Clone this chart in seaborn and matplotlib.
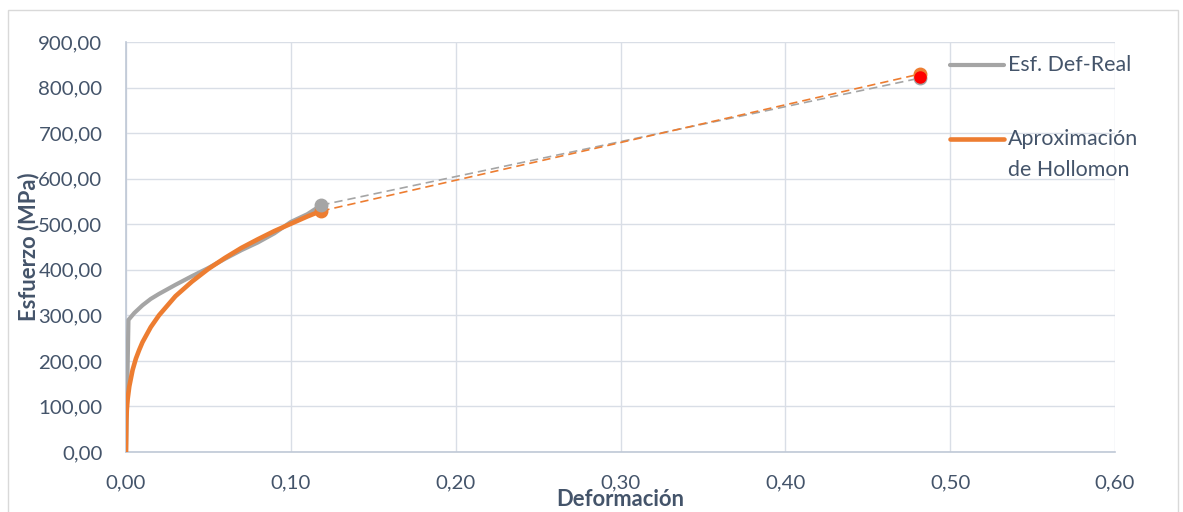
import matplotlib.pyplot as plt
import matplotlib.ticker as mticker
from matplotlib.lines import Line2D
from matplotlib.patches import Rectangle
import pandas as pd
import seaborn as sns

# curva esfuerzo-deformacion real
eps_real = [0, 0.0008, 0.0015, 0.005, 0.01, 0.015, 0.02, 0.03, 0.04, 0.05,
            0.06, 0.07, 0.08, 0.09, 0.10, 0.11, 0.1185]
sig_real = [0, 150, 290, 305, 322, 336, 347, 367, 386, 404,
            424, 443, 460, 480, 505, 522, 542]

# aproximacion de Hollomon
eps_holl = [0, 0.0002, 0.0005, 0.001, 0.002, 0.004, 0.006, 0.008, 0.01, 0.015,
            0.02, 0.03, 0.04, 0.05, 0.06, 0.07, 0.08, 0.09, 0.10, 0.11, 0.119]
sig_holl = [0, 69, 93, 116, 144, 180, 205, 224, 241, 274,
            300, 342, 374, 402, 426, 448, 467, 485, 501, 517, 530]

# extrapolacion hasta la rotura
eps_ext = [0.1185, 0.482]
sig_ext_real = [542, 821]
sig_ext_holl = [529, 830]
rotura = (0.482, 823)

x_ticks = [0, 0.1, 0.2, 0.3, 0.4, 0.5, 0.6]
y_ticks = [0, 100, 200, 300, 400, 500, 600, 700, 800, 900]

GRAY = '#A5A5A5'
ORANGE = '#ED7D31'
TXT = '#44546A'

sns.set_style('white')
plt.rcParams['font.family'] = ['Lato', 'DejaVu Sans']

fig = plt.figure(figsize=(11.83, 5.12), dpi=100)
ax = fig.add_axes([126 / 1183, 1 - 452 / 512, 989 / 1183, 410 / 512])

df_real = pd.DataFrame({'eps': eps_real, 'sig': sig_real})
df_holl = pd.DataFrame({'eps': eps_holl, 'sig': sig_holl})

sns.lineplot(data=df_real, x='eps', y='sig', sort=False, color=GRAY, lw=3, ax=ax, zorder=3)
sns.lineplot(data=df_holl, x='eps', y='sig', sort=False, color=ORANGE, lw=3.3, ax=ax, zorder=4)
sns.lineplot(x=eps_ext, y=sig_ext_real, color=GRAY, lw=1.2, ls=(0, (5, 3)), ax=ax, zorder=3)
sns.lineplot(x=eps_ext, y=sig_ext_holl, color=ORANGE, lw=1.2, ls=(0, (5, 3)), ax=ax, zorder=4)

ax.plot(eps_ext[0], sig_ext_holl[0], 'o', color=ORANGE, ms=9, zorder=5)
ax.plot(eps_ext[0], sig_ext_real[0], 'o', color=GRAY, ms=9, zorder=6)
ax.plot(eps_ext[1], sig_ext_real[1], 'o', color=GRAY, ms=9, zorder=5)
ax.plot(eps_ext[1], sig_ext_holl[1], 'o', color=ORANGE, ms=9, zorder=6)
ax.plot(rotura[0], rotura[1], 'o', color='#FF0000', ms=8, zorder=7)

ax.set_xlim(0, 0.6)
ax.set_ylim(0, 900)
ax.set_xticks(x_ticks)
ax.set_yticks(y_ticks)
ax.xaxis.set_major_formatter(mticker.FuncFormatter(lambda v, p: f'{v:.2f}'.replace('.', ',')))
ax.yaxis.set_major_formatter(mticker.FuncFormatter(lambda v, p: f'{v:.2f}'.replace('.', ',')))
ax.tick_params(axis='both', length=0, labelsize=14.7, labelcolor=TXT)
ax.tick_params(axis='y', pad=17)
ax.tick_params(axis='x', pad=16)

ax.grid(True, color='#D9DEE6', lw=1)
ax.set_axisbelow(True)
for s in ['top', 'right']:
    ax.spines[s].set_visible(False)
for s in ['left', 'bottom']:
    ax.spines[s].set_color('#BFC8D6')
    ax.spines[s].set_linewidth(1.2)

ax.set_xlabel('Deformación', fontsize=15.8, fontweight='bold', color=TXT)
ax.set_ylabel('Esfuerzo (MPa)', fontsize=15.8, fontweight='bold', color=TXT)
ax.xaxis.label.set_va('center')
ax.yaxis.label.set_va('center')
ax.xaxis.set_label_coords(0.5, -0.117)
ax.yaxis.set_label_coords(-0.099, 0.5)

# leyenda estilo Excel
def fx(px):
    return px / 1183

def fy(py):
    return 1 - py / 512

fig.add_artist(Line2D([fx(950), fx(1004)], [fy(65), fy(65)], color=GRAY, lw=3))
fig.add_artist(Line2D([fx(950), fx(1004)], [fy(139), fy(139)], color=ORANGE, lw=3.3))
fig.text(fx(1008), fy(65), 'Esf. Def-Real', fontsize=15.4, color=TXT, va='center')
fig.text(fx(1008), fy(139), 'Aproximación', fontsize=15.4, color=TXT, va='center')
fig.text(fx(1008), fy(170), 'de Hollomon', fontsize=15.4, color=TXT, va='center')

fig.add_artist(Rectangle((fx(8), -0.05), fx(1170), fy(10) + 0.05, fill=False,
                         edgecolor='#D9D9D9', lw=1, transform=fig.transFigure))

fig.savefig('out.png', dpi=100)
